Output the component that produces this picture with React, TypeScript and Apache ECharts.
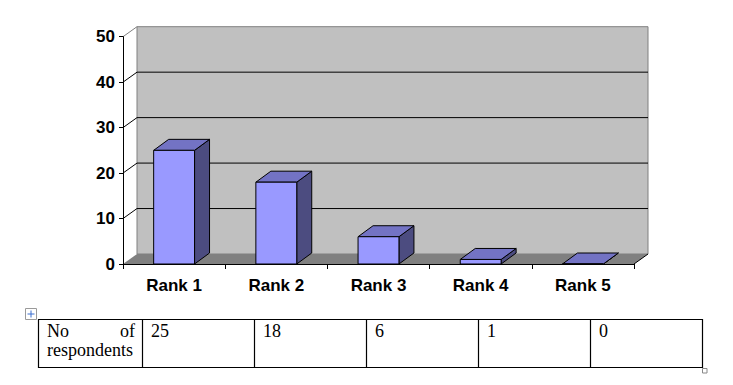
import React, { useEffect, useRef } from "react";
import * as echarts from "echarts";

const categories = ["Rank 1", "Rank 2", "Rank 3", "Rank 4", "Rank 5"];
const respondents = [25, 18, 6, 1, 0];
const yTicks = [10, 20, 30, 40, 50];
const tableRowLabelTop = ["No", "of"];
const tableRowLabelBottom = "respondents";

const WDX = 14;
const WDY = -10;
const BDX = 15;
const BDY = -11;

export default function App() {
  const ref = useRef<HTMLDivElement>(null);

  useEffect(() => {
    if (!ref.current) return;
    const chart = echarts.init(ref.current, null, { renderer: "svg" });

    const wallSeries = {
      type: "custom",
      z: 1,
      clip: false,
      silent: true,
      data: [[0, 0]],
      renderItem: (params: any, api: any) => {
        const cs = params.coordSys;
        const x0 = cs.x;
        const x1 = cs.x + cs.width;
        const yt = cs.y;
        const yb = cs.y + cs.height;
        const children: any[] = [];
        children.push({
          type: "rect",
          shape: { x: x0 + WDX, y: yt + WDY, width: cs.width, height: cs.height },
          style: { fill: "#c0c0c0", stroke: "#808080", lineWidth: 1 },
        });
        children.push({
          type: "polygon",
          shape: {
            points: [
              [x0, yb],
              [x1, yb],
              [x1 + WDX, yb + WDY],
              [x0 + WDX, yb + WDY],
            ],
          },
          style: { fill: "#808080" },
        });
        yTicks.forEach((t) => {
          const y = api.coord([0, t])[1];
          if (t === yTicks[yTicks.length - 1]) {
            children.push({
              type: "line",
              shape: { x1: x0, y1: y, x2: x0 + WDX, y2: y + WDY },
              style: { stroke: "#808080", lineWidth: 1 },
            });
          } else {
            children.push({
              type: "polyline",
              shape: {
                points: [
                  [x0, y],
                  [x0 + WDX, y + WDY],
                  [x1 + WDX, y + WDY],
                ],
              },
              style: { stroke: "#000", lineWidth: 1, fill: null },
            });
          }
        });
        children.push({
          type: "line",
          shape: { x1: x1, y1: yb, x2: x1 + WDX, y2: yb + WDY },
          style: { stroke: "#000", lineWidth: 1 },
        });
        return { type: "group", children };
      },
    };

    const barSeries = {
      type: "custom",
      z: 3,
      clip: false,
      data: respondents.map((v, i) => [i, v]),
      encode: { x: 0, y: 1 },
      renderItem: (params: any, api: any) => {
        const i = api.value(0);
        const v = api.value(1);
        const top = api.coord([i, v]);
        const base = api.coord([i, 0]);
        const bw = api.size([1, 0])[0] * 0.4;
        const l = top[0] - bw / 2;
        const r = top[0] + bw / 2;
        const t = top[1];
        const b = base[1];
        const stroke = { stroke: "#000", lineWidth: 1 };
        return {
          type: "group",
          children: [
            {
              type: "polygon",
              shape: {
                points: [
                  [r, t],
                  [r + BDX, t + BDY],
                  [r + BDX, b + BDY],
                  [r, b],
                ],
              },
              style: { fill: "#4c4c80", ...stroke },
            },
            {
              type: "polygon",
              shape: {
                points: [
                  [l, t],
                  [r, t],
                  [r + BDX, t + BDY],
                  [l + BDX, t + BDY],
                ],
              },
              style: { fill: "#7373c4", ...stroke },
            },
            {
              type: "rect",
              shape: { x: l, y: t, width: bw, height: b - t },
              style: { fill: "#9999ff", ...stroke },
            },
          ],
        };
      },
    };

    // Table
    const tLeft = 38.5;
    const tTop = 319.5;
    const tBottom = 367.5;
    const colEdges = [38.5, 142.5, 254.5, 366.5, 478.5, 590.5, 702.5];
    const tableEls: any[] = [];
    tableEls.push({
      type: "rect",
      shape: { x: tLeft, y: tTop, width: colEdges[colEdges.length - 1] - tLeft, height: tBottom - tTop },
      style: { fill: "#fff", stroke: "#000", lineWidth: 1.2 },
    });
    colEdges.slice(1, -1).forEach((x) => {
      tableEls.push({
        type: "line",
        shape: { x1: x, y1: tTop, x2: x, y2: tBottom },
        style: { stroke: "#000", lineWidth: 1.2 },
      });
    });
    const serif = '18px "Liberation Serif", "Times New Roman", serif';
    tableEls.push({
      type: "text",
      style: { text: tableRowLabelTop[0], x: 47, y: 322, font: serif, fill: "#000", textAlign: "left", textVerticalAlign: "top" },
    });
    tableEls.push({
      type: "text",
      style: { text: tableRowLabelTop[1], x: 135, y: 322, font: serif, fill: "#000", textAlign: "right", textVerticalAlign: "top" },
    });
    tableEls.push({
      type: "text",
      style: { text: tableRowLabelBottom, x: 47, y: 341, font: serif, fill: "#000", textAlign: "left", textVerticalAlign: "top" },
    });
    respondents.forEach((v, i) => {
      tableEls.push({
        type: "text",
        style: {
          text: String(v),
          x: colEdges[i + 1] + 8.5,
          y: 322,
          font: serif,
          fill: "#000",
          textAlign: "left",
          textVerticalAlign: "top",
        },
      });
    });
    // move handle icon
    tableEls.push({
      type: "rect",
      shape: { x: 25.5, y: 308.5, width: 11, height: 11 },
      style: { fill: "#fff", stroke: "#9a9a9a", lineWidth: 1 },
    });
    tableEls.push({
      type: "line",
      shape: { x1: 27.5, y1: 314, x2: 34.5, y2: 314 },
      style: { stroke: "#3a6fd0", lineWidth: 1 },
    });
    tableEls.push({
      type: "line",
      shape: { x1: 31, y1: 310.5, x2: 31, y2: 317.5 },
      style: { stroke: "#3a6fd0", lineWidth: 1 },
    });
    tableEls.push({
      type: "rect",
      shape: { x: 702.5, y: 368.5, width: 4.5, height: 4.5 },
      style: { fill: "#fff", stroke: "#888", lineWidth: 1 },
    });

    const sans = '"Liberation Sans", Arial, sans-serif';

    chart.setOption({
      animation: false,
      backgroundColor: "#fff",
      grid: { left: 123, right: 99, top: 36.7, bottom: 121, containLabel: false },
      xAxis: {
        type: "category",
        data: categories,
        z: 10,
        axisLine: { show: true, lineStyle: { color: "#000", width: 1 } },
        axisTick: { show: true, length: 5, lineStyle: { color: "#000" } },
        axisLabel: {
          color: "#000",
          fontFamily: sans,
          fontWeight: "bold",
          fontSize: 17,
          margin: 13,
        },
        splitLine: { show: false },
      },
      yAxis: {
        type: "value",
        min: 0,
        max: 50,
        interval: 10,
        z: 10,
        axisLine: { show: true, lineStyle: { color: "#000", width: 1 } },
        axisTick: { show: true, length: 4, lineStyle: { color: "#000" } },
        axisLabel: {
          color: "#000",
          fontFamily: sans,
          fontWeight: "bold",
          fontSize: 17,
          margin: 8,
        },
        splitLine: { show: false },
      },
      series: [wallSeries, barSeries],
      graphic: tableEls,
    });

    return () => chart.dispose();
  }, []);

  return (
    <div
      ref={ref}
      style={{ position: "absolute", left: 0, top: 0, width: 733, height: 385 }}
    />
  );
}
